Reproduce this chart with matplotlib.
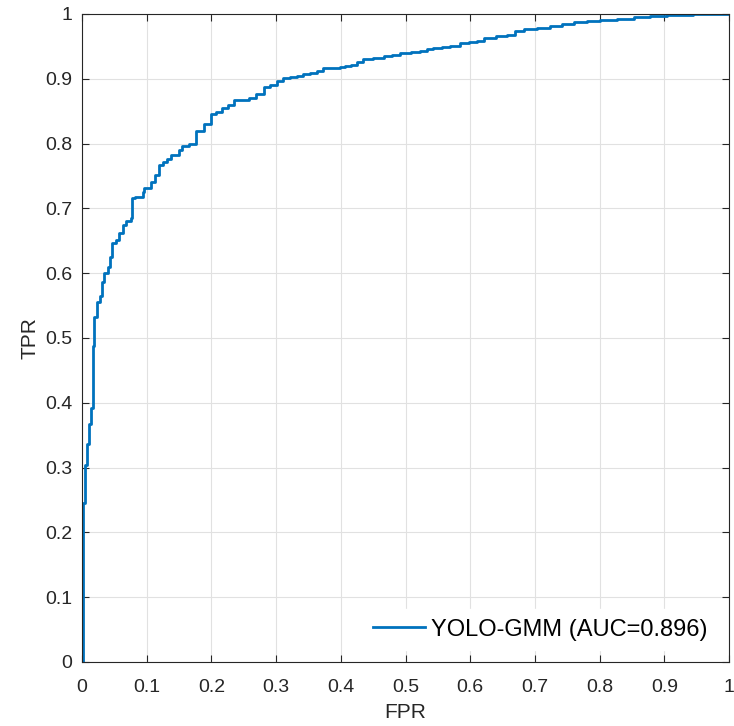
import matplotlib.pyplot as plt

plt.rcParams['font.family'] = ['Liberation Sans', 'DejaVu Sans']

# ROC vertices (FPR where the step happens, TPR after the step)
fpr = [0.0, 0.002, 0.005, 0.008, 0.011, 0.0145, 0.0165, 0.019, 0.023, 0.028,
       0.031, 0.034, 0.040, 0.044, 0.046, 0.052, 0.057, 0.063, 0.068, 0.075,
       0.078, 0.082, 0.094, 0.096, 0.107, 0.113, 0.119, 0.125, 0.132, 0.137,
       0.150, 0.155, 0.166, 0.176, 0.189, 0.199, 0.207, 0.217, 0.225, 0.235,
       0.258, 0.269, 0.281, 0.291, 0.301, 0.311, 0.322, 0.332, 0.342, 0.352,
       0.363, 0.373, 0.386, 0.399, 0.407, 0.415, 0.425, 0.435, 0.450, 0.466,
       0.479, 0.492, 0.508, 0.523, 0.533, 0.543, 0.556, 0.569, 0.585, 0.598,
       0.611, 0.621, 0.640, 0.657, 0.670, 0.683, 0.703, 0.724, 0.742, 0.760,
       0.780, 0.801, 0.827, 0.853, 0.878, 0.904, 0.925, 0.945, 1.0]
tpr = [0.0, 0.246, 0.304, 0.337, 0.367, 0.392, 0.488, 0.533, 0.556, 0.565,
       0.587, 0.600, 0.610, 0.625, 0.646, 0.651, 0.662, 0.674, 0.681, 0.685,
       0.716, 0.718, 0.726, 0.731, 0.741, 0.752, 0.767, 0.772, 0.777, 0.782,
       0.790, 0.796, 0.799, 0.819, 0.831, 0.846, 0.849, 0.855, 0.860, 0.867,
       0.871, 0.877, 0.887, 0.890, 0.897, 0.901, 0.903, 0.905, 0.907, 0.909,
       0.912, 0.916, 0.917, 0.918, 0.920, 0.922, 0.926, 0.930, 0.932, 0.935,
       0.937, 0.940, 0.941, 0.943, 0.946, 0.948, 0.949, 0.950, 0.955, 0.957,
       0.959, 0.963, 0.966, 0.968, 0.973, 0.977, 0.979, 0.982, 0.985, 0.987,
       0.989, 0.991, 0.993, 0.995, 0.997, 0.998, 0.999, 1.0, 1.0]

ticks = [0, 0.1, 0.2, 0.3, 0.4, 0.5, 0.6, 0.7, 0.8, 0.9, 1]
tick_labels = ['0', '0.1', '0.2', '0.3', '0.4', '0.5', '0.6', '0.7', '0.8', '0.9', '1']

fig = plt.figure(figsize=(7.34, 7.26), dpi=100)
ax = fig.add_axes([82 / 734, 64 / 726, 647 / 734, 648 / 726])

ax.plot(fpr, tpr, drawstyle='steps-post', color='#0072BD', linewidth=2,
        label='YOLO-GMM (AUC=0.896)')

ax.set_xlim(0, 1)
ax.set_ylim(0, 1)
ax.set_xticks(ticks)
ax.set_yticks(ticks)
ax.set_xticklabels(tick_labels)
ax.set_yticklabels(tick_labels)
ax.tick_params(direction='in', top=True, right=True, length=5, width=0.8,
               colors='#262626', labelsize=14, labelcolor='#262626', pad=7)
ax.tick_params(axis='x', pad=12)
ax.grid(True, color='#e1e1e1', linewidth=0.8)
for s in ax.spines.values():
    s.set_color('#262626')
    s.set_linewidth(0.8)

ax.set_xlabel('FPR', fontsize=15, color='#262626', labelpad=5)
ax.set_ylabel('TPR', fontsize=15, color='#262626', labelpad=4)

leg = ax.legend(loc='lower right', fontsize=17, frameon=True, fancybox=False,
                handlelength=2.2, handletextpad=0.25, borderaxespad=0.5)
leg.get_frame().set_edgecolor('white')
leg.get_frame().set_alpha(1)

fig.savefig('out.png', dpi=100)
